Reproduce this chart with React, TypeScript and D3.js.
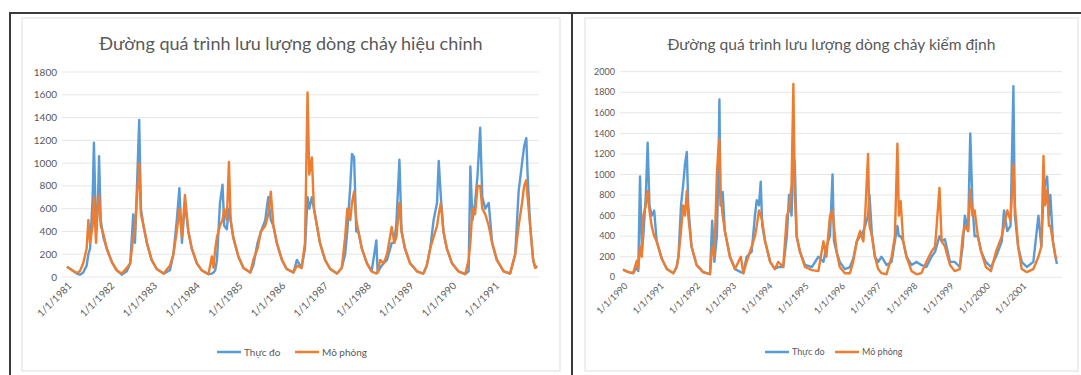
import * as d3 from 'd3'

const seriesNames = ['Thực đo', 'Mô phỏng']
const seriesColors = ['#5b9bd5', '#ed7d31']

// calibration period (left chart)
const calTitle = 'Đường quá trình lưu lượng dòng chảy hiệu chỉnh'
const calYears = [
  1981.00, 1981.12, 1981.23, 1981.30, 1981.38, 1981.46, 1981.50, 1981.54, 1981.60, 1981.63,
  1981.68, 1981.72, 1981.75, 1981.79, 1981.85, 1981.93, 1982.05, 1982.16, 1982.28, 1982.40,
  1982.48, 1982.55, 1982.59, 1982.62, 1982.69, 1982.73, 1982.79, 1982.87, 1982.98, 1983.10,
  1983.26, 1983.41, 1983.49, 1983.57, 1983.63, 1983.69, 1983.76, 1983.84, 1983.92, 1984.04,
  1984.15, 1984.31, 1984.39, 1984.43, 1984.47, 1984.51, 1984.58, 1984.64, 1984.68, 1984.74,
  1984.79, 1984.83, 1984.89, 1985.01, 1985.13, 1985.29, 1985.36, 1985.46, 1985.54, 1985.64,
  1985.71, 1985.77, 1985.83, 1985.91, 1986.03, 1986.14, 1986.30, 1986.38, 1986.49, 1986.57,
  1986.63, 1986.67, 1986.73, 1986.78, 1986.85, 1986.92, 1987.04, 1987.16, 1987.32, 1987.43,
  1987.51, 1987.56, 1987.63, 1987.67, 1987.72, 1987.77, 1987.82, 1987.90, 1988.02, 1988.13,
  1988.24, 1988.27, 1988.33, 1988.41, 1988.49, 1988.60, 1988.66, 1988.71, 1988.78, 1988.83,
  1988.91, 1989.03, 1989.19, 1989.34, 1989.42, 1989.50, 1989.58, 1989.66, 1989.70, 1989.75,
  1989.81, 1989.89, 1990.01, 1990.16, 1990.32, 1990.40, 1990.44, 1990.49, 1990.55, 1990.61,
  1990.67, 1990.72, 1990.79, 1990.87, 1990.95, 1991.06, 1991.22, 1991.37, 1991.49, 1991.57,
  1991.65, 1991.70, 1991.75, 1991.78, 1991.84, 1991.91, 1991.96, 1992.00,
]
const calObserved = [
  90, 60, 30, 20, 40, 100, 200, 250, 700, 1180,
  400, 600, 1060, 500, 350, 250, 130, 60, 20, 50,
  120, 550, 300, 600, 1380, 600, 450, 300, 150, 70,
  30, 60, 200, 500, 780, 300, 650, 400, 250, 120,
  60, 25, 30, 40, 60, 150, 650, 810, 450, 420,
  600, 500, 350, 180, 80, 40, 100, 300, 400, 500,
  700, 500, 450, 300, 150, 70, 40, 150, 80, 250,
  700, 600, 700, 600, 450, 300, 150, 70, 30, 80,
  200, 400, 800, 1080, 1050, 400, 400, 250, 120, 50,
  320, 40, 80, 120, 150, 300, 300, 480, 1030, 400,
  250, 120, 50, 30, 100, 250, 500, 650, 1020, 700,
  400, 250, 120, 50, 25, 50, 970, 500, 650, 900,
  1310, 700, 600, 650, 300, 150, 50, 30, 200, 750,
  1000, 1150, 1220, 900, 450, 150, 80, 100,
]
const calSimulated = [
  90, 60, 35, 50, 120, 250, 500, 300, 450, 700,
  300, 650, 720, 450, 380, 250, 130, 60, 30, 80,
  120, 350, 400, 600, 1000, 550, 450, 300, 150, 70,
  30, 100, 200, 400, 600, 350, 720, 400, 250, 120,
  60, 25, 180, 80, 250, 350, 450, 500, 600, 500,
  1010, 500, 350, 180, 80, 40, 150, 250, 400, 450,
  550, 750, 450, 300, 150, 70, 40, 100, 80, 300,
  1620, 900, 1050, 600, 450, 300, 150, 70, 30, 80,
  350, 600, 500, 650, 750, 500, 400, 250, 120, 50,
  30, 40, 150, 120, 200, 440, 300, 350, 650, 400,
  250, 120, 50, 30, 100, 250, 350, 450, 550, 650,
  400, 250, 120, 50, 25, 150, 300, 600, 550, 800,
  800, 600, 550, 450, 300, 150, 50, 30, 200, 450,
  650, 800, 850, 700, 450, 150, 80, 90,
]
const calTickYears = [1981, 1982, 1983, 1984, 1985, 1986, 1987, 1988, 1989, 1990, 1991]
const calYTicks = [0, 200, 400, 600, 800, 1000, 1200, 1400, 1600, 1800]

// validation period (right chart)
const valTitle = 'Đường quá trình lưu lượng dòng chảy kiểm định'
const valYears = [
  1990.00, 1990.15, 1990.28, 1990.38, 1990.42, 1990.47, 1990.52, 1990.56, 1990.63, 1990.68,
  1990.73, 1990.79, 1990.86, 1990.93, 1991.07, 1991.21, 1991.39, 1991.48, 1991.53, 1991.60,
  1991.66, 1991.71, 1991.76, 1991.80, 1991.89, 1992.03, 1992.21, 1992.40, 1992.46, 1992.52,
  1992.59, 1992.63, 1992.66, 1992.69, 1992.75, 1992.81, 1992.95, 1993.09, 1993.25, 1993.32,
  1993.41, 1993.55, 1993.64, 1993.69, 1993.75, 1993.80, 1993.84, 1993.92, 1994.06, 1994.19,
  1994.28, 1994.42, 1994.52, 1994.58, 1994.65, 1994.70, 1994.74, 1994.79, 1994.88, 1995.02,
  1995.21, 1995.39, 1995.53, 1995.61, 1995.71, 1995.78, 1995.82, 1995.89, 1995.98, 1996.12,
  1996.26, 1996.35, 1996.45, 1996.54, 1996.63, 1996.68, 1996.76, 1996.80, 1996.87, 1996.95,
  1997.04, 1997.13, 1997.27, 1997.41, 1997.50, 1997.57, 1997.61, 1997.66, 1997.73, 1997.82,
  1997.96, 1998.10, 1998.23, 1998.37, 1998.51, 1998.61, 1998.73, 1998.79, 1998.88, 1999.02,
  1999.15, 1999.29, 1999.37, 1999.43, 1999.52, 1999.58, 1999.64, 1999.70, 1999.79, 1999.88,
  2000.01, 2000.15, 2000.29, 2000.45, 2000.51, 2000.60, 2000.69, 2000.77, 2000.81, 2000.90,
  2001.00, 2001.14, 2001.32, 2001.46, 2001.54, 2001.60, 2001.64, 2001.70, 2001.75, 2001.79,
  2001.86, 2001.93, 2001.97,
]
const valObserved = [
  75, 50, 40, 100, 60, 980, 250, 400, 800, 1310,
  700, 600, 650, 350, 180, 80, 40, 100, 200, 700,
  900, 1100, 1220, 700, 300, 120, 50, 30, 550, 150,
  400, 1000, 1730, 700, 830, 450, 200, 80, 50, 40,
  200, 250, 600, 750, 700, 930, 500, 350, 150, 80,
  100, 100, 400, 800, 600, 1200, 1100, 400, 250, 120,
  100, 200, 150, 300, 400, 1000, 350, 250, 150, 80,
  100, 180, 350, 400, 450, 500, 600, 800, 400, 200,
  150, 200, 120, 150, 350, 500, 400, 400, 350, 200,
  120, 150, 120, 100, 200, 250, 400, 350, 370, 150,
  150, 100, 300, 600, 450, 1400, 700, 400, 400, 250,
  150, 100, 200, 350, 650, 450, 500, 1860, 600, 300,
  150, 100, 150, 600, 300, 800, 900, 980, 600, 800,
  350, 200, 130,
]
const valSimulated = [
  75, 50, 40, 160, 80, 300, 200, 600, 700, 840,
  650, 500, 400, 350, 180, 80, 40, 100, 200, 450,
  700, 600, 840, 600, 300, 120, 50, 30, 300, 200,
  1000, 1240, 1340, 800, 600, 450, 200, 80, 200, 40,
  150, 300, 400, 500, 650, 600, 550, 350, 150, 80,
  150, 100, 600, 650, 900, 1880, 800, 400, 250, 100,
  70, 60, 350, 200, 600, 650, 500, 250, 100, 40,
  40, 150, 350, 450, 350, 600, 1200, 500, 400, 200,
  80, 40, 30, 200, 400, 1300, 600, 740, 350, 200,
  60, 30, 40, 150, 250, 300, 870, 350, 300, 120,
  60, 80, 400, 500, 450, 850, 600, 650, 400, 250,
  100, 60, 250, 400, 500, 650, 550, 1100, 700, 300,
  80, 50, 80, 200, 300, 1180, 700, 850, 500, 500,
  350, 200, 180,
]
const valTickYears = [1990, 1991, 1992, 1993, 1994, 1995, 1996, 1997, 1998, 1999, 2000, 2001]
const valYTicks = [0, 200, 400, 600, 800, 1000, 1200, 1400, 1600, 1800, 2000]

const font = 'Lato, "Liberation Sans", sans-serif'
const textColor = '#595959'

function Panel({ title, years, observed, simulated, tickYears, yTicks, xDomain, box, plot, titleSize, tickSize, legendX }) {
  const x = d3.scaleLinear().domain(xDomain).range([plot.x0, plot.x1])
  const y = d3.scaleLinear().domain([0, yTicks[yTicks.length - 1]]).range([plot.y0, plot.y1])
  const line = d3.line<number>().x((_, i) => x(years[i])).y(d => y(d))
  const series = [observed, simulated]
  return (
    <g>
      <rect x={box.x} y={box.y} width={box.w} height={box.h} fill="#fff" stroke="#e3e3e3" strokeWidth={1.2} />
      <text x={box.x + box.w / 2} y={50} textAnchor="middle" fontSize={titleSize} fill={textColor} fontFamily={font}>{title}</text>
      {yTicks.map(t => (
        <g key={t}>
          <line x1={plot.gx0} x2={plot.gx1} y1={y(t)} y2={y(t)} stroke="#e6e6e6" strokeWidth={1} />
          <text x={plot.gx0 - 5} y={y(t)} dy="0.35em" textAnchor="end" fontSize={tickSize} fill={textColor} fontFamily={font}>{t}</text>
        </g>
      ))}
      {series.map((s, k) => (
        <path key={k} d={line(s) || ''} fill="none" stroke={seriesColors[k]} strokeWidth={2.4} strokeLinejoin="round" />
      ))}
      {tickYears.map(t => (
        <text key={t} transform={`translate(${x(t) + 3},${plot.y0 + 7}) rotate(-45)`} dy="0.35em" textAnchor="end"
          fontSize={tickSize} fill={textColor} fontFamily={font}>{`1/1/${t}`}</text>
      ))}
      {seriesNames.map((n, k) => (
        <g key={n} transform={`translate(${legendX[k]},352)`}>
          <line x1={0} x2={24} y1={0} y2={0} stroke={seriesColors[k]} strokeWidth={2.5} />
          <text x={27} y={0} dy="0.35em" fontSize={tickSize} fill={textColor} fontFamily={font}>{n}</text>
        </g>
      ))}
    </g>
  )
}

export default function App() {
  return (
    <div style={{ position: 'absolute', left: 0, top: 0 }}>
      <svg width={1081} height={375} style={{ display: 'block', background: '#fff' }}>
        <Panel title={calTitle} years={calYears} observed={calObserved} simulated={calSimulated}
          tickYears={calTickYears} yTicks={calYTicks} xDomain={[1981, 1992]}
          box={{ x: 22, y: 18, w: 538, h: 353 }}
          plot={{ x0: 67, x1: 537, y0: 277, y1: 72, gx0: 62, gx1: 539 }}
          titleSize={18} tickSize={10} legendX={[217, 295]} />
        <Panel title={valTitle} years={valYears} observed={valObserved} simulated={valSimulated}
          tickYears={valTickYears} yTicks={valYTicks} xDomain={[1990, 2002]}
          box={{ x: 585, y: 18, w: 493, h: 353 }}
          plot={{ x0: 623, x1: 1058, y0: 277.3, y1: 71.7, gx0: 620, gx1: 1062 }}
          titleSize={15.6} tickSize={9} legendX={[765, 835]} />
        <path d="M10,375 V13 H1081" fill="none" stroke="#3a3a3a" strokeWidth={2} />
        <line x1={572} x2={572} y1={13} y2={375} stroke="#3a3a3a" strokeWidth={2} />
      </svg>
    </div>
  )
}
